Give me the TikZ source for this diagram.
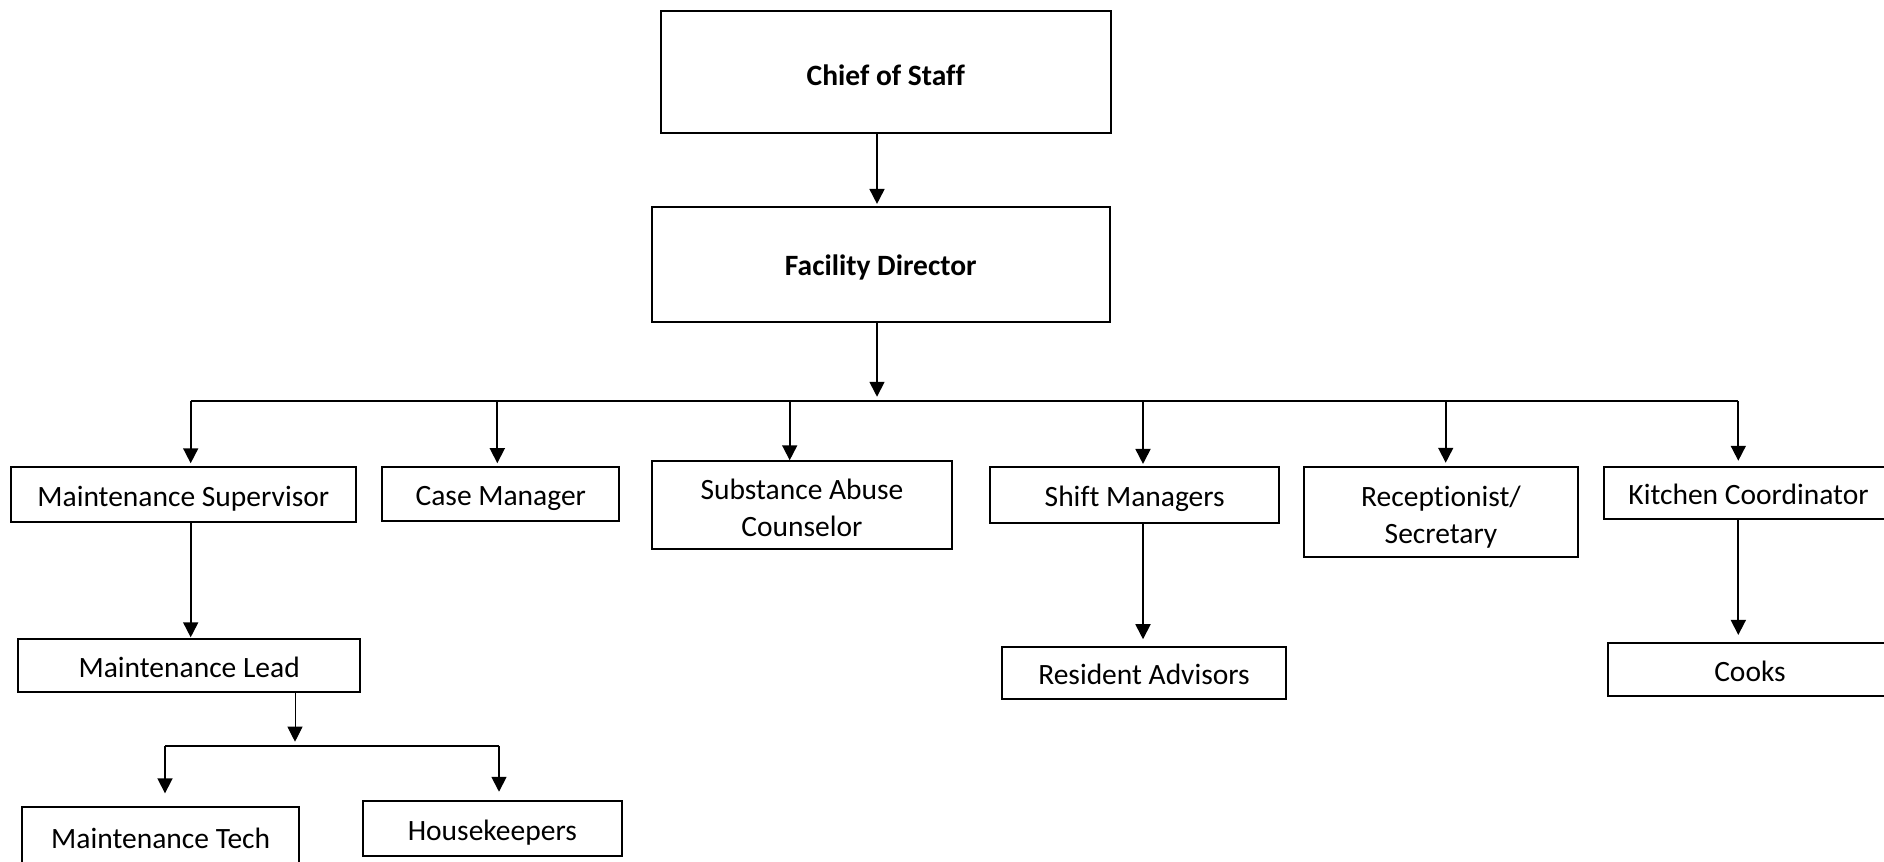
\documentclass[tikz,border=0pt]{standalone}
\usepackage{fontspec}
\setmainfont{Carlito}[Ligatures=NoCommon]
\usetikzlibrary{arrows.meta}

\begin{document}
\begin{tikzpicture}[x=0.4pt, y=-0.4pt, >={Triangle[width=6pt, length=6pt]},
  box/.style={draw, line width=0.8pt, inner sep=0pt, outer sep=0pt, align=center,
    text height=9.5pt, text depth=0pt, font=\fontsize{11.8}{15}\selectfont},
  twoline/.style={text height=25.2pt, text depth=0pt},
  head/.style={box, font=\fontsize{11.8}{15}\selectfont\bfseries},
  link/.style={->, line width=0.7pt, shorten >=1.5pt},
  bus/.style={line width=0.8pt}]
  \useasboundingbox (0,0) rectangle (1884,861);

  % Top of the chart
  \node[head, text height=11.2pt, minimum width=180pt, minimum height=48.8pt] (chief) at (885.8,71.7) {Chief of Staff};
  \node[head, text height=8.6pt, minimum width=183.3pt, minimum height=46.1pt] (fd) at (880.8,264.3) {Facility Director};

  % Direct reports
  \node[box, minimum width=138.1pt, minimum height=21.8pt] (ms) at (183.3,494.5) {Maintenance Supervisor};
  \node[box, minimum width=94.8pt, minimum height=21.7pt] (cm) at (500.8,493.8) {Case Manager};
  \node[box, twoline, minimum width=119.8pt, minimum height=35.2pt] (sac) at (802,505) {Substance Abuse\\Counselor};
  \node[box, minimum width=115.7pt, minimum height=22.4pt] (sm) at (1134.7,494.7) {Shift Managers};
  \node[box, twoline, minimum width=109.4pt, minimum height=36pt] (rec) at (1441,512) {Receptionist/\\Secretary};
  \node[box, minimum width=115.6pt, minimum height=21pt] (kc) at (1748.5,493) {Kitchen Coordinator};

  % Second level
  \node[box, minimum width=136.7pt, minimum height=21pt] (ml) at (189.2,665.3) {Maintenance Lead};
  \node[box, minimum width=113.4pt, minimum height=21.1pt] (ra) at (1144,673.1) {Resident Advisors};
  \node[box, minimum width=113.4pt, minimum height=21.3pt] (cooks) at (1750,669.3) {Cooks};

  % Third level
  \node[box, minimum width=110.6pt, minimum height=24pt] (mt) at (160.7,836.8) {Maintenance Tech};
  \node[box, minimum width=103.7pt, minimum height=22pt] (hk) at (492.3,828.5) {Housekeepers};

  % Bus under the director
  \coordinate (top) at (877,401);
  \coordinate (b1) at (190.7,401);
  \coordinate (b2) at (497.3,401);
  \coordinate (b3) at (789.7,401);
  \coordinate (b4) at (1143,401);
  \coordinate (b5) at (1445.7,401);
  \coordinate (b6) at (1738.3,401);
  \draw[bus] (b1) -- (b6);

  \draw[link, shorten >=1.1pt] (chief.south -| top) -- (fd.north -| top);
  \draw[link, shorten >=1.7pt] (fd.south -| top) -- (top);

  \draw[link, shorten >=1.6pt] (b1) -- (b1 |- ms.north);
  \draw[link, shorten >=1.4pt] (b2) -- (b2 |- cm.north);
  \draw[link, shorten >=0.3pt] (b3) -- (b3 |- sac.north);
  \draw[link, shorten >=1.1pt] (b4) -- (b4 |- sm.north);
  \draw[link, shorten >=1.7pt] (b5) -- (b5 |- rec.north);
  \draw[link, shorten >=2.4pt] (b6) -- (b6 |- kc.north);

  \draw[link, shorten >=0.7pt] (ms.south -| b1) -- (ml.north -| b1);
  \draw[link, shorten >=3pt] (sm.south -| b4) -- (ra.north -| b4);
  \draw[link, shorten >=3.1pt] (kc.south -| b6) -- (cooks.north -| b6);

  % Bus under the maintenance lead
  \coordinate (m0) at (295,745.7);
  \coordinate (m1) at (165,745.7);
  \coordinate (m2) at (499,745.7);
  \draw[link, line width=0.4pt, shorten >=1.6pt] (ml.south -| m0) -- (m0);
  \draw[bus] (m1) -- (m2);
  \draw[link, shorten >=5.4pt] (m1) -- (m1 |- mt.north);
  \draw[link, shorten >=3.7pt] (m2) -- (m2 |- hk.north);
\end{tikzpicture}
\end{document}
